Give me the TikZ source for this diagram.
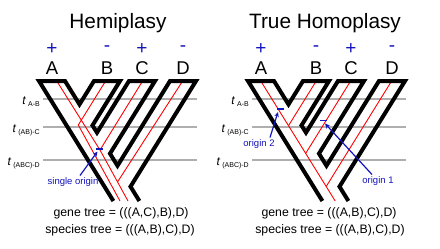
\documentclass[tikz,border=0pt]{standalone}
\usepackage{fontspec}
\setmainfont{Liberation Sans}
\usetikzlibrary{arrows.meta}
\definecolor{myblue}{RGB}{20,20,190}
\definecolor{tgray}{RGB}{175,175,175}
\newcommand{\tlab}[1]{\fontsize{12}{12}\selectfont\textit{t}\,\raisebox{-2.5pt}{\fontsize{7}{7}\selectfont #1}}
\begin{document}
\begin{tikzpicture}[x=1pt,y=-1pt,
  sptree/.style={line width=4pt,line join=miter,miter limit=10},
  gene/.style={red,line width=0.9pt},
  tline/.style={tgray,line width=1.3pt},
  title/.style={font=\fontsize{20.8}{22}\selectfont},
  tip/.style={font=\fontsize{18.5}{20}\selectfont},
  sign/.style={font=\fontsize{19}{20}\selectfont,text=myblue},
  formula/.style={font=\fontsize{12.3}{13}\selectfont},
  ann/.style={font=\fontsize{9.5}{10}\selectfont,text=myblue},
  annarrow/.style={myblue,line width=1.2pt,-{Stealth[length=5pt,width=4.5pt]}},
  mutbar/.style={myblue,line width=1.4pt},
  tlabel/.style={anchor=base east,inner sep=0pt}]
\useasboundingbox (0,0) rectangle (440,249);
\fill[white] (0,0) rectangle (440,249);

% ================= LEFT PANEL =================
\begin{scope}
\node[title] (titleL) at (118,23) {Hemiplasy};
\foreach \n/\x/\s in {A/52/+,B/107/-,C/142/+,D/183/-}{
  \node[sign] (sL\n) at (\x,49) {\s};
  \node[tip] (tL\n) at (\x,68) {\n};
}
\draw[tline] (43,99) -- (197,99);
\draw[tline] (43,127) -- (197,127);
\draw[tline] (43,160) -- (197,160);
\node[tlabel] (tL1) at (40,104) {\tlab{A-B}};
\node[tlabel] (tL2) at (40,132) {\tlab{(AB)-C}};
\node[tlabel] (tL3) at (40,165) {\tlab{(ABC)-D}};
% gene tree
\draw[gene] (58,83) -- (100,150);
\draw[gene] (142,82) -- (100,150);
\draw[gene] (100,150) -- (128,201);
\draw[gene] (105,82) -- (78.3,125) -- (120,201);
\draw[gene] (182,82) -- (117.5,182);
% species tree
\draw[sptree] (113.4,201) -- (39,81) -- (65,81) -- (79.5,104.4) -- (94,81) -- (120,81)
  -- (92.5,125.4) -- (97,132.6) -- (129,81) -- (155,81) -- (110,153.6) -- (117.5,165.7)
  -- (170,81) -- (196,81) -- (130.5,186.6) -- (139.4,201);
% annotation
\draw[mutbar] (96,149) -- (103,149);
\node[ann] (soL) at (73,182) {single origin};
\coordinate (oL) at (97.5,151.5);
\coordinate (soLs) at (80,175.5);
\draw[annarrow] (soLs) -- (oL);
\node[formula] (gL) at (121,213) {gene tree = (((A,C),B),D)};
\node[formula] (spL) at (120,230) {species tree = (((A,B),C),D)};
\end{scope}

% ================= RIGHT PANEL =================
\begin{scope}[xshift=209pt]
\node[title] (titleR) at (116,23) {True Homoplasy};
\foreach \n/\x/\s in {A/52/+,B/107/-,C/142/+,D/183/-}{
  \node[sign] (sR\n) at (\x,49) {\s};
  \node[tip] (tR\n) at (\x,68) {\n};
}
\draw[tline] (43,99) -- (197,99);
\draw[tline] (43,127) -- (197,127);
\draw[tline] (43,160) -- (197,160);
\node[tlabel] (tR1) at (40,104) {\tlab{A-B}};
\node[tlabel] (tR2) at (40,132) {\tlab{(AB)-C}};
\node[tlabel] (tR3) at (40,165) {\tlab{(ABC)-D}};
% gene tree
\draw[gene] (53,83) -- (79.5,125.7);
\draw[gene] (106,83) -- (79.5,125.7) -- (126.2,201);
\draw[gene] (141,82) -- (96.7,153.4);
\draw[gene] (182,82) -- (117.2,186.5);
% species tree
\draw[sptree] (113.4,201) -- (39,81) -- (65,81) -- (79.5,104.4) -- (94,81) -- (120,81)
  -- (92.5,125.4) -- (97,132.6) -- (129,81) -- (155,81) -- (110,153.6) -- (117.5,165.7)
  -- (170,81) -- (196,81) -- (130.5,186.6) -- (139.4,201);
% annotations
\draw[mutbar] (68,109) -- (75,109);
\draw[mutbar] (111,120.5) -- (118,120.5);
\node[ann] (o2) at (50,144) {origin 2};
\node[ann] (o1) at (169,181) {origin 1};
\coordinate (o2t) at (69,112);
\coordinate (o2s) at (61,137.5);
\coordinate (o1t) at (116,123.5);
\coordinate (o1s) at (163,174.5);
\draw[annarrow] (o2s) -- (o2t);
\draw[annarrow] (o1s) -- (o1t);
\node[formula] (gR) at (120,213) {gene tree = (((A,B),C),D)};
\node[formula] (spR) at (121,230) {species tree = (((A,B),C),D)};
\end{scope}
\end{tikzpicture}
\end{document}
